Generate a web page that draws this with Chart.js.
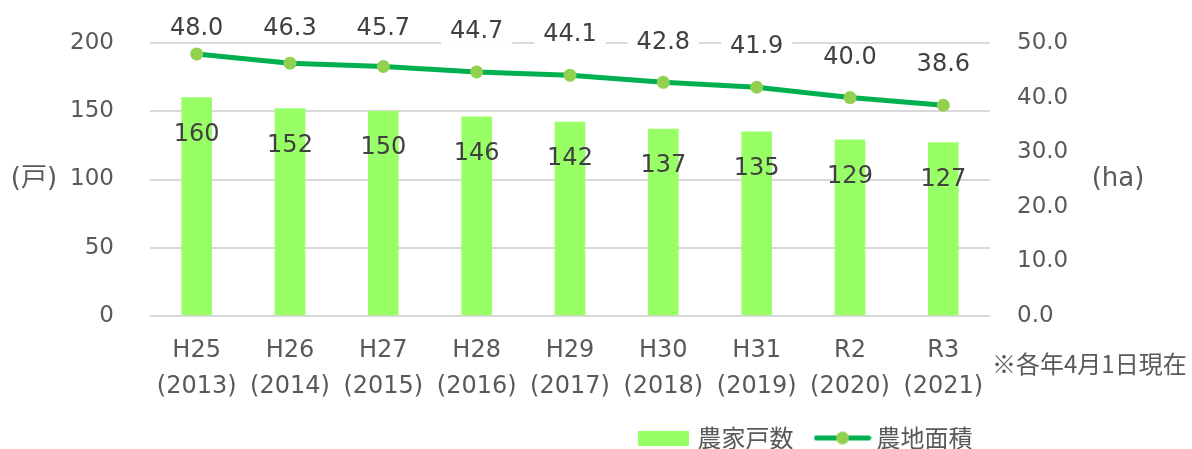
<!DOCTYPE html>
<html lang="ja">
<head>
<meta charset="utf-8">
<script src="https://cdn.jsdelivr.net/npm/chart.js@4.4.1/dist/chart.umd.min.js"></script>
<style>
  html, body { margin: 0; padding: 0; background: #fff; }
</style>
</head>
<body>
<canvas id="farm" width="1192" height="449"></canvas>
<script>
// data
const years = [
  ["H25", "(2013)"], ["H26", "(2014)"], ["H27", "(2015)"], ["H28", "(2016)"],
  ["H29", "(2017)"], ["H30", "(2018)"], ["H31", "(2019)"], ["R2", "(2020)"], ["R3", "(2021)"]
];
const households = [160, 152, 150, 146, 142, 137, 135, 129, 127]; // 農家戸数 (戸)
const farmland = [48.0, 46.3, 45.7, 44.7, 44.1, 42.8, 41.9, 40.0, 38.6]; // 農地面積 (ha)
const householdTicks = [0, 50, 100, 150, 200];
const farmlandTicks = [0, 10, 20, 30, 40, 50];

const seriesNames = ["農家戸数", "農地面積"];
const unitLeft = "(戸)";
const unitRight = "(ha)";
const note = "※各年4月1日現在";

const latin = '"DejaVu Sans", "Noto Sans CJK JP", sans-serif';
const cjk = '"Noto Sans CJK JP", sans-serif';
const barColor = "#99ff66";
const lineColor = "#00b050";
const dotColor = "#92d050";
const tickColor = "#595959";
const labelColor = "#404040";

// legend icons
function makeIcon(w, h, draw) {
  const c = document.createElement("canvas");
  c.width = w; c.height = h;
  draw(c.getContext("2d"));
  return c;
}
const barIcon = makeIcon(51, 15, (g) => {
  g.fillStyle = barColor;
  g.fillRect(0, 0, 51, 15);
});
const lineIcon = makeIcon(58, 15, (g) => {
  g.strokeStyle = lineColor;
  g.lineWidth = 5;
  g.lineCap = "round";
  g.beginPath(); g.moveTo(3, 7.5); g.lineTo(55, 7.5); g.stroke();
  g.fillStyle = dotColor;
  g.beginPath(); g.arc(29, 7.5, 6.5, 0, Math.PI * 2); g.fill();
});

const valueLabels = {
  id: "valueLabels",
  afterDatasetsDraw(chart) {
    const ctx = chart.ctx;
    ctx.save();
    ctx.font = "24px " + latin;
    ctx.textAlign = "center";
    ctx.textBaseline = "middle";
    chart.getDatasetMeta(0).data.forEach((bar, i) => {
      ctx.fillStyle = labelColor;
      ctx.fillText(String(households[i]), bar.x, bar.y + 37);
    });
    chart.getDatasetMeta(1).data.forEach((pt, i) => {
      const text = farmland[i].toFixed(1);
      const y = Math.max(pt.y - 40, chart.chartArea.top - 14);
      const w = ctx.measureText(text).width + 18;
      ctx.fillStyle = "#ffffff";
      ctx.fillRect(pt.x - w / 2, y - 12, w, 24);
      ctx.fillStyle = labelColor;
      ctx.fillText(text, pt.x, y);
    });
    ctx.restore();
  }
};

const extraText = {
  id: "extraText",
  afterLayout(chart) {
    // legend sits right of centre in the original
    const lg = chart.legend;
    lg.left += 211; lg.right += 211;
    lg.top -= 5; lg.bottom -= 5;
  },
  afterDraw(chart) {
    const ctx = chart.ctx;
    const area = chart.chartArea;
    const midY = (area.top + area.bottom) / 2;
    ctx.save();
    ctx.fillStyle = tickColor;
    ctx.textBaseline = "middle";
    ctx.textAlign = "center";
    ctx.font = "26px " + latin;
    ctx.fillText(unitLeft, 34, midY);
    ctx.fillText(unitRight, 1118, midY);
    ctx.textAlign = "left";
    ctx.font = "24px " + cjk;
    ctx.fillText(note, area.right + 2, 364);
    ctx.restore();
  }
};

new Chart(document.getElementById("farm"), {
  data: {
    labels: years,
    datasets: [
      {
        type: "bar",
        label: seriesNames[0],
        data: households,
        backgroundColor: barColor,
        barThickness: 30,
        yAxisID: "yLeft",
        order: 2,
      },
      {
        type: "line",
        label: seriesNames[1],
        data: farmland,
        borderColor: lineColor,
        borderWidth: 5,
        backgroundColor: dotColor,
        pointBackgroundColor: dotColor,
        pointBorderWidth: 0,
        pointRadius: 6.5,
        tension: 0,
        yAxisID: "yRight",
        order: 1,
      },
    ],
  },
  options: {
    responsive: false,
    animation: false,
    layout: {
      padding: { top: 43, left: 0, right: 0, bottom: -16 },
    },
    scales: {
      x: {
        grid: { display: false, drawTicks: false },
        border: { display: false },
        ticks: {
          color: tickColor,
          padding: 17,
          font: { family: latin, size: 24, lineHeight: 36 / 24 },
        },
        afterFit(scale) { scale.height = 88; },
      },
      yLeft: {
        position: "left",
        min: householdTicks[0],
        max: householdTicks[householdTicks.length - 1],
        grid: { color: "#d9d9d9", lineWidth: 2, drawTicks: false },
        border: { display: false },
        ticks: {
          stepSize: householdTicks[1] - householdTicks[0],
          color: tickColor,
          padding: 36,
          font: { family: latin, size: 23, lineHeight: 0.5 },
        },
        afterFit(scale) { scale.width = 150; },
      },
      yRight: {
        position: "right",
        min: farmlandTicks[0],
        max: farmlandTicks[farmlandTicks.length - 1],
        grid: { display: false, drawTicks: false },
        border: { display: false },
        ticks: {
          stepSize: farmlandTicks[1] - farmlandTicks[0],
          color: tickColor,
          padding: 27,
          font: { family: latin, size: 23, lineHeight: 0.5 },
          callback: (v) => Number(v).toFixed(1),
        },
        afterFit(scale) { scale.width = 202; },
      },
    },
    plugins: {
      tooltip: { enabled: false },
      legend: {
        position: "bottom",
        labels: {
          usePointStyle: true,
          pointStyleWidth: 44,
          padding: 27,
          color: tickColor,
          font: { family: cjk, size: 24 },
          generateLabels(chart) {
            const items = Chart.defaults.plugins.legend.labels.generateLabels(chart);
            items.sort((a, b) => a.datasetIndex - b.datasetIndex);
            items.forEach((it) => {
              it.pointStyle = it.datasetIndex === 0 ? barIcon : lineIcon;
            });
            return items;
          },
        },
      },
    },
  },
  plugins: [valueLabels, extraText],
});
</script>
</body>
</html>
